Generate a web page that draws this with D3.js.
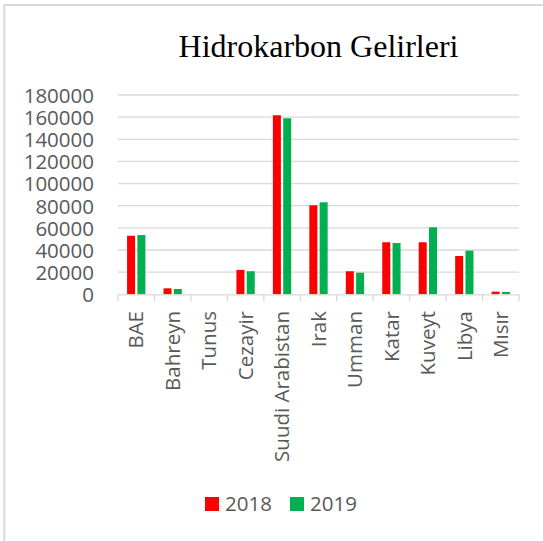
<!DOCTYPE html>
<html><head><meta charset="utf-8">
<script src="https://cdn.jsdelivr.net/npm/d3@7"></script>
<style>html,body{margin:0;padding:0;background:#fff;}svg{display:block;}</style>
</head><body>
<svg id="c" width="543" height="541"></svg>
<script>
const categories = ["BAE","Bahreyn","Tunus","Cezayir","Suudi Arabistan","Irak","Umman","Katar","Kuveyt","Libya","Mısır"];
const series = ["2018","2019"];
const values2018 = [52900, 5400, 0, 22000, 161700, 80400, 20800, 47000, 47000, 34600, 2400];
const values2019 = [53500, 4800, 0, 20800, 159000, 83100, 19500, 46300, 60500, 39400, 2100];
const colors = ["#ff0000", "#00b050"];
const yTicks = [0,20000,40000,60000,80000,100000,120000,140000,160000,180000];
const title = "Hidrokarbon Gelirleri";

(function(){
const svg = d3.select("#c");
const W = 543, H = 541;
const pLeft = 118, pRight = 519, pTop = 95, pBottom = 294.3;
const labelFont = "'Open Sans', sans-serif";
const gray = "#595959";

// chart border (top and left visible)
svg.append("line").attr("x1",4.3).attr("x2",W).attr("y1",5).attr("y2",5).attr("stroke","#d9d9d9").attr("stroke-width",2);
svg.append("line").attr("x1",4.3).attr("x2",4.3).attr("y1",4).attr("y2",H).attr("stroke","#d9d9d9").attr("stroke-width",2);

const x0 = d3.scaleBand().domain(categories).range([pLeft,pRight]).padding(0);
const x1 = d3.scaleBand().domain(series).range([0,x0.bandwidth()]).paddingInner(0.223).paddingOuter(0.88);
const y = d3.scaleLinear().domain([0,180000]).range([pBottom,pTop]);

// gridlines
svg.append("g").selectAll("line").data(yTicks.filter(d=>d>0)).join("line")
  .attr("x1",pLeft).attr("x2",pRight).attr("y1",d=>y(d)).attr("y2",d=>y(d))
  .attr("stroke","#d9d9d9").attr("stroke-width",1.3);

// y axis labels
const yAxis = d3.axisLeft(y).tickValues(yTicks).tickSize(0).tickPadding(0).tickFormat(d3.format("d"));
const gy = svg.append("g").attr("transform",`translate(94,0)`).call(yAxis);
gy.select(".domain").remove();
gy.selectAll("text").attr("font-family",labelFont).attr("font-size","20.5px").attr("fill",gray).attr("dy","0.36em");

// bars
const data = categories.map((c,i)=>({c, vals:[values2018[i], values2019[i]]}));
const groups = svg.append("g").selectAll("g").data(data).join("g")
  .attr("transform",d=>`translate(${x0(d.c)},0)`);
groups.selectAll("rect").data(d=>d.vals.map((v,j)=>({s:series[j],v,j}))).join("rect")
  .attr("x",d=>x1(d.s)).attr("width",x1.bandwidth())
  .attr("y",d=>y(d.v)).attr("height",d=>y(0)-y(d.v))
  .attr("fill",d=>colors[d.j]);

// x axis
const xAxis = d3.axisBottom(x0).tickSize(0).tickPadding(0).tickFormat("");
const gx = svg.append("g").attr("transform",`translate(0,${pBottom})`).call(xAxis);
gx.select(".domain").attr("stroke","#d9d9d9").attr("stroke-width",1.3);
gx.selectAll(".tick").remove();
const edges = categories.map(c=>x0(c)).concat([pRight]);
gx.selectAll("line.edge").data(edges).join("line").attr("class","edge")
  .attr("x1",d=>d).attr("x2",d=>d).attr("y1",0).attr("y2",7)
  .attr("stroke","#d9d9d9").attr("stroke-width",1.3);

// category labels
svg.append("g").selectAll("text").data(categories).join("text")
  .attr("transform",d=>`translate(${x0(d)+x0.bandwidth()/2},311) rotate(-90)`)
  .attr("text-anchor","end").attr("dy","0.35em")
  .attr("font-family",labelFont).attr("font-size","20.5px").attr("fill",gray)
  .text(d=>d);

// title
svg.append("text").attr("x",(pLeft+pRight)/2).attr("y",57).attr("text-anchor","middle")
  .attr("font-family","'Liberation Serif', 'Times New Roman', serif").attr("font-size","32px").attr("fill","#000")
  .text(title);

// legend
const lg = svg.append("g");
const legX = [205, 290];
series.forEach((s,i)=>{
  lg.append("rect").attr("x",legX[i]).attr("y",497).attr("width",14).attr("height",14).attr("fill",colors[i]);
  lg.append("text").attr("x",legX[i]+20).attr("y",504).attr("dy","0.36em")
    .attr("font-family",labelFont).attr("font-size","20.5px").attr("fill",gray).text(s);
});
})();
</script>
</body></html>
